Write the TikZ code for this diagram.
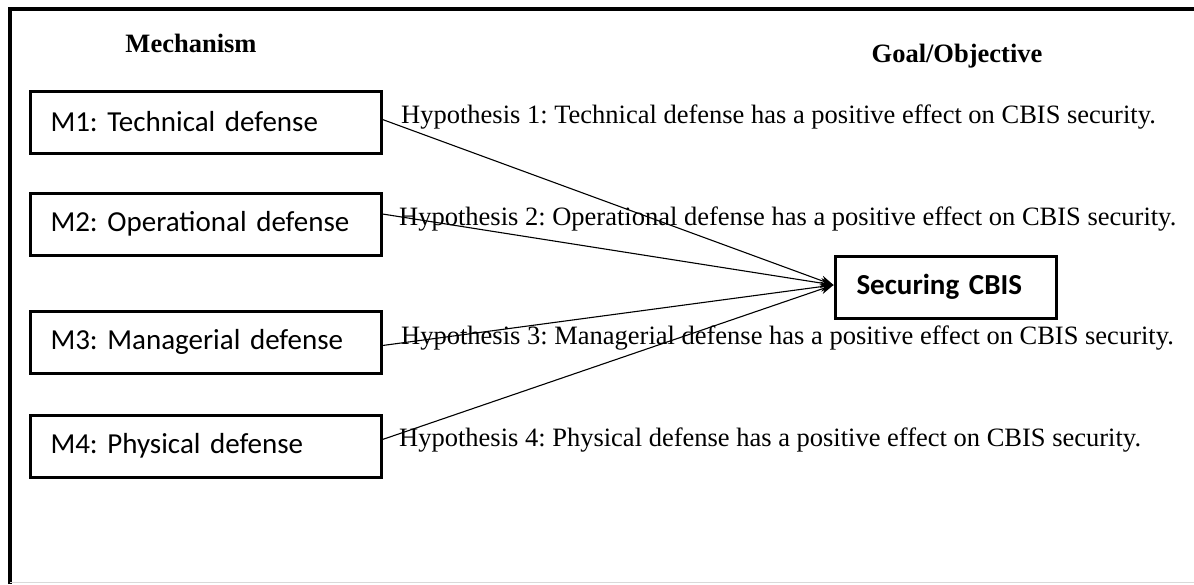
\documentclass[tikz,border=0pt]{standalone}
\usepackage{fontspec}
\setmainfont{Liberation Serif}
\newfontfamily\boxfont{Carlito}
\usetikzlibrary{arrows.meta,calc}
\frenchspacing

\begin{document}
\begin{tikzpicture}[x=1pt,y=-1pt,
    every node/.style={inner sep=0pt, font=\fontsize{26.5}{31}\selectfont},
    head/.style={anchor=base, font=\bfseries\fontsize{26.5}{31}\selectfont},
    mech/.style={draw, line width=3pt, anchor=north west, minimum height=62pt,
      text width=310pt, inner xsep=20.5pt, align=left,
      font=\boxfont\fontsize{29}{34}\selectfont},
    goalbox/.style={draw, line width=3pt, anchor=north west, minimum height=62pt,
      text width=178pt, inner xsep=21.5pt, align=left,
      font=\boxfont\bfseries\fontsize{29}{34}\selectfont},
    hyp/.style={anchor=base west},
    ed/.style={line width=1.1pt, -{Stealth[length=13pt,width=10pt]}}
  ]
    \useasboundingbox (0,0) rectangle (1194,584);
    % outer frame
    \draw[line width=4pt] (10,584) -- (10,9) -- (1194,9);
    \draw[black!15] (10,582.5) -- (1194,582.5);
    % column headings
    \node[head] (hmech) at (191,52) {Mechanism};
    \node[head] (hgoal) at (957,62) {Goal/Objective};
    % mechanisms
    \node[mech] (m1) at (28.5,89.5)  {M1: Technical defense};
    \node[mech] (m2) at (28.5,191.5) {M2: Operational defense};
    \node[mech] (m3) at (28.5,309.5) {M3: Managerial defense};
    \node[mech] (m4) at (28.5,413.5) {M4: Physical defense};
    % goal
    \node[goalbox] (sec) at (833.5,254.5) {Securing CBIS};
    % hypotheses
    \node[hyp] (h1) at (401,123) {Hypothesis 1: Technical defense has a positive effect on CBIS security.};
    \node[hyp] (h2) at (399,225) {Hypothesis 2: Operational defense has a positive effect on CBIS security.};
    \node[hyp] (h3) at (401,344) {Hypothesis 3: Managerial defense has a positive effect on CBIS security.};
    \node[hyp] (h4) at (399,446) {Hypothesis 4: Physical defense has a positive effect on CBIS security.};
    % links
    \draw[ed] ([yshift=2.5pt]m1.east) -- ([yshift=2pt]sec.west);
    \draw[ed] ([yshift=10pt]m2.east) -- ([yshift=2pt]sec.west);
    \draw[ed] ([yshift=-3.5pt]m3.east) -- ([yshift=2pt]sec.west);
    \draw[ed] ([yshift=6.5pt]m4.east) -- ([yshift=2pt]sec.west);
\end{tikzpicture}
\end{document}
